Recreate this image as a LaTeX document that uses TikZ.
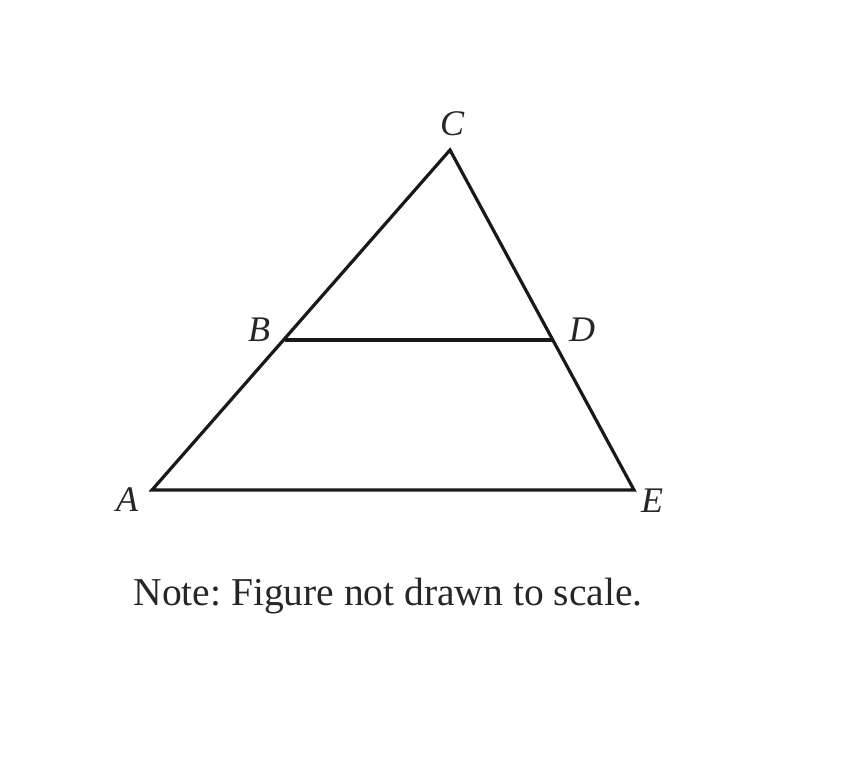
\documentclass[tikz,border=0pt]{standalone}
\usepackage{fontspec}
\setmainfont{Liberation Serif}
\frenchspacing
\begin{document}
\begin{tikzpicture}[x=1pt,y=-1pt,
  edge/.style={line width=3.2pt,line join=miter,black!90},
  lbl/.style={font=\fontsize{36}{42}\selectfont\itshape,inner sep=0pt,text=black!85},
  note/.style={font=\fontsize{39.5}{46}\selectfont,inner sep=0pt,text=black!85}]
\useasboundingbox (0,0) rectangle (858,760);
\coordinate (A) at (152,490);
\coordinate (E) at (634,490);
\coordinate (C) at (450,150);
\coordinate (B) at (285,340);
\coordinate (D) at (554,340);
\draw[edge] (A) -- (C) -- (E) -- cycle;
\draw[edge] (B) -- (D);
\node[lbl] (lC) at (452,124) {C};
\node[lbl] (lB) at (259,330) {B};
\node[lbl] (lD) at (582,330) {D};
\node[lbl] (lA) at (127,500) {A};
\node[lbl] (lE) at (652,501) {E};
\node[note] (n) at (388,596) {Note: Figure not drawn to scale.};
\end{tikzpicture}
\end{document}
